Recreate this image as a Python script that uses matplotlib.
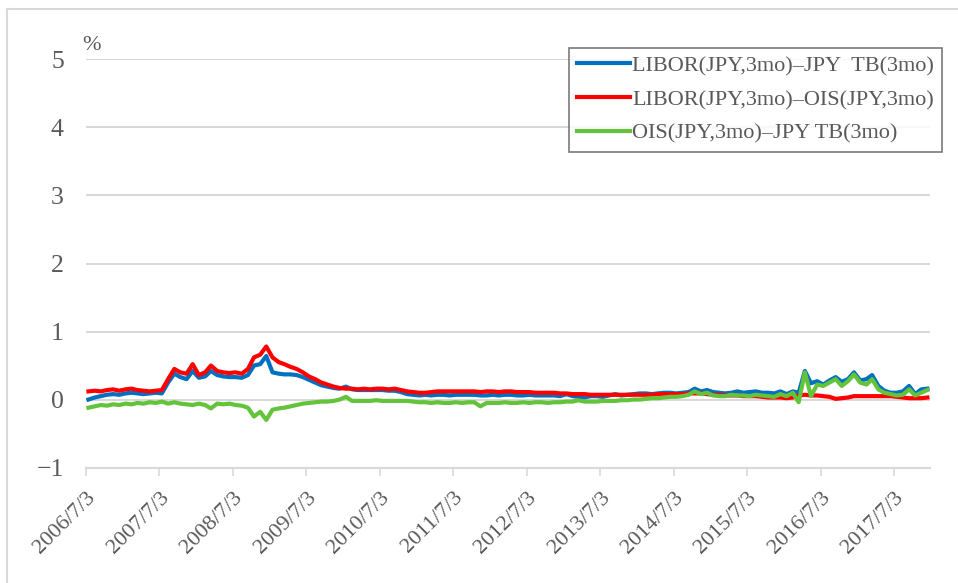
import pandas as pd
import matplotlib.pyplot as plt
from matplotlib.lines import Line2D

# monthly readings, 2006/07 .. 2017/12 (mid-month)
months = pd.date_range("2006-07-01", "2017-12-01", freq="MS") + pd.Timedelta(days=14)

libor_tb = [
    0.00, 0.03, 0.05, 0.07, 0.08, 0.07,
    0.09, 0.10, 0.09, 0.08, 0.09, 0.10, 0.09, 0.25, 0.38, 0.33, 0.30, 0.42,
    0.32, 0.34, 0.42, 0.36, 0.34, 0.33, 0.33, 0.32, 0.36, 0.50, 0.52, 0.64,
    0.40, 0.38, 0.37, 0.37, 0.36, 0.33, 0.29, 0.25, 0.21, 0.19, 0.17, 0.16,
    0.19, 0.15, 0.14, 0.14, 0.14, 0.14, 0.14, 0.13, 0.13, 0.11, 0.08, 0.07,
    0.06, 0.07, 0.06, 0.07, 0.07, 0.06, 0.07, 0.07, 0.07, 0.07, 0.06, 0.06,
    0.07, 0.06, 0.07, 0.07, 0.06, 0.06, 0.07, 0.06, 0.06, 0.06, 0.06, 0.05,
    0.08, 0.05, 0.04, 0.03, 0.05, 0.05, 0.04, 0.06, 0.08, 0.06, 0.07, 0.08,
    0.09, 0.09, 0.08, 0.09, 0.10, 0.10, 0.09, 0.10, 0.11, 0.16, 0.12, 0.14,
    0.11, 0.10, 0.09, 0.10, 0.12, 0.10, 0.11, 0.12, 0.10, 0.10, 0.09, 0.12,
    0.08, 0.12, 0.10, 0.42, 0.24, 0.27, 0.22, 0.28, 0.33, 0.26, 0.30, 0.40,
    0.28, 0.30, 0.36, 0.20, 0.13, 0.10, 0.10, 0.12, 0.20, 0.08, 0.15, 0.16,
]

libor_ois = [
    0.12, 0.13, 0.12, 0.14, 0.15, 0.13,
    0.15, 0.16, 0.14, 0.13, 0.12, 0.13, 0.14, 0.30, 0.45, 0.40, 0.38, 0.52,
    0.36, 0.40, 0.50, 0.42, 0.40, 0.39, 0.40, 0.38, 0.45, 0.62, 0.66, 0.78,
    0.62, 0.55, 0.52, 0.48, 0.45, 0.40, 0.34, 0.30, 0.25, 0.22, 0.19, 0.17,
    0.16, 0.16, 0.15, 0.16, 0.15, 0.16, 0.16, 0.15, 0.16, 0.14, 0.12, 0.11,
    0.10, 0.10, 0.11, 0.12, 0.12, 0.12, 0.12, 0.12, 0.12, 0.12, 0.11, 0.12,
    0.12, 0.11, 0.12, 0.12, 0.11, 0.11, 0.11, 0.10, 0.10, 0.10, 0.10, 0.09,
    0.09, 0.08, 0.08, 0.08, 0.07, 0.07, 0.07, 0.07, 0.07, 0.07, 0.07, 0.07,
    0.07, 0.07, 0.07, 0.08, 0.08, 0.08, 0.08, 0.08, 0.09, 0.09, 0.09, 0.08,
    0.07, 0.07, 0.06, 0.06, 0.06, 0.05, 0.05, 0.05, 0.04, 0.03, 0.03, 0.03,
    0.02, 0.03, 0.06, 0.07, 0.06, 0.06, 0.05, 0.04, 0.01, 0.02, 0.03, 0.05,
    0.05, 0.05, 0.05, 0.05, 0.05, 0.05, 0.04, 0.03, 0.02, 0.02, 0.02, 0.03,
]

ois_tb = [
    -0.12, -0.10, -0.08, -0.09, -0.07, -0.08,
    -0.06, -0.07, -0.05, -0.06, -0.04, -0.05, -0.03, -0.06, -0.04, -0.06, -0.07, -0.08,
    -0.06, -0.08, -0.13, -0.06, -0.07, -0.06, -0.08, -0.09, -0.12, -0.25, -0.18, -0.30,
    -0.15, -0.13, -0.12, -0.10, -0.08, -0.06, -0.05, -0.04, -0.03, -0.03, -0.02, 0.00,
    0.04, -0.02, -0.02, -0.02, -0.02, -0.01, -0.02, -0.02, -0.02, -0.02, -0.02, -0.03,
    -0.04, -0.04, -0.05, -0.04, -0.05, -0.05, -0.04, -0.05, -0.04, -0.04, -0.10, -0.05,
    -0.05, -0.05, -0.04, -0.05, -0.05, -0.04, -0.05, -0.04, -0.04, -0.05, -0.04, -0.04,
    -0.03, -0.03, -0.01, -0.03, -0.03, -0.03, -0.02, -0.02, -0.02, -0.01, -0.01, 0.00,
    0.00, 0.01, 0.02, 0.02, 0.03, 0.04, 0.04, 0.05, 0.07, 0.12, 0.08, 0.10,
    0.06, 0.05, 0.05, 0.07, 0.06, 0.06, 0.05, 0.07, 0.06, 0.05, 0.04, 0.08,
    0.05, 0.10, -0.04, 0.40, 0.05, 0.22, 0.20, 0.25, 0.30, 0.20, 0.27, 0.37,
    0.25, 0.22, 0.30, 0.15, 0.10, 0.08, 0.06, 0.07, 0.15, 0.06, 0.10, 0.14,
]

tick_dates = pd.date_range("2006-07-03", periods=12, freq=pd.DateOffset(years=1))
tick_labels = [f"{d.year}/7/3" for d in tick_dates]

plt.rcParams["font.family"] = ["Liberation Serif", "DejaVu Serif"]
grey = "#595959"

fig = plt.figure(figsize=(9.58, 5.83), dpi=100)
ax = fig.add_axes([0.0898, 0.198, 0.8812, 0.700])

ax.plot(months, libor_tb, color="#0070c0", lw=3, label="LIBOR(JPY,3mo)\u2013JPY  TB(3mo)")
ax.plot(months, libor_ois, color="#ff0000", lw=3, label="LIBOR(JPY,3mo)\u2013OIS(JPY,3mo)")
ax.plot(months, ois_tb, color="#63c43c", lw=3, label="OIS(JPY,3mo)\u2013JPY TB(3mo)")

ax.set_ylim(-1, 5)
ax.set_xlim(pd.Timestamp("2006-07-03"), pd.Timestamp("2017-12-29"))
ax.set_yticks(range(-1, 6))
ax.set_yticklabels(["\u22121", "0", "1", "2", "3", "4", "5"])
ax.set_xticks(tick_dates)
ax.set_xticklabels(tick_labels, rotation=45, ha="right", rotation_mode="anchor")
ax.grid(axis="y", color="#d9d9d9", lw=1.5)
ax.set_axisbelow(True)
for s in ["top", "right", "left"]:
    ax.spines[s].set_visible(False)
ax.spines["bottom"].set_color("#d9d9d9")
ax.spines["bottom"].set_linewidth(1.5)
ax.tick_params(axis="x", colors="#d9d9d9", length=6, width=1.2, labelcolor=grey, labelsize=16, pad=9)
ax.tick_params(axis="y", length=0, labelcolor=grey, labelsize=18.5, pad=16)

fig.text(0.086, 0.915, "%", color=grey, fontsize=16)

leg = ax.legend(loc="upper right", bbox_to_anchor=(0.983, 0.918), bbox_transform=fig.transFigure,
                fontsize=16, frameon=True, fancybox=False, handlelength=2.4, handletextpad=0.1,
                borderpad=0.35, labelspacing=0.6, borderaxespad=0)
leg.get_frame().set_edgecolor(grey)
leg.get_frame().set_linewidth(1.2)
for t in leg.get_texts():
    t.set_color(grey)

# outer frame of the original figure (cut off at right and bottom)
fig.add_artist(Line2D([0.0073, 0.0073], [0, 0.985], color="#d9d9d9", lw=1.5))
fig.add_artist(Line2D([0.0073, 1.0], [0.985, 0.985], color="#d9d9d9", lw=1.5))

fig.savefig("out.png", dpi=100)
